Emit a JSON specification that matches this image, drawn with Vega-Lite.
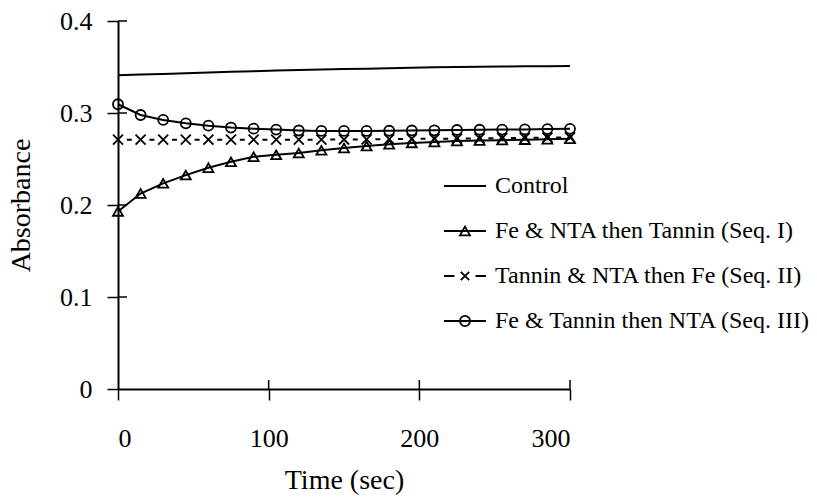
{
  "$schema": "https://vega.github.io/schema/vega-lite/v6.json",
  "autosize": {"type": "none"},
  "padding": {"left": 118, "top": 21, "right": 247, "bottom": 112},
  "width": 452,
  "height": 368,
  "background": "white",
  "config": {
    "font": "Liberation Serif",
    "view": {"stroke": null},
    "axis": {
      "grid": false,
      "domainColor": "black",
      "domainWidth": 2,
      "tickColor": "black",
      "tickWidth": 1.5,
      "labelColor": "black",
      "titleColor": "black",
      "titleFontWeight": "normal",
      "labelFont": "Liberation Serif",
      "titleFont": "Liberation Serif"
    }
  },
  "data": {
    "values": [
      {"t": 0, "series": "Control", "a": 0.341},
      {"t": 15, "series": "Control", "a": 0.3418},
      {"t": 30, "series": "Control", "a": 0.3425},
      {"t": 45, "series": "Control", "a": 0.3433},
      {"t": 60, "series": "Control", "a": 0.344},
      {"t": 75, "series": "Control", "a": 0.3448},
      {"t": 90, "series": "Control", "a": 0.3455},
      {"t": 105, "series": "Control", "a": 0.3462},
      {"t": 120, "series": "Control", "a": 0.3468},
      {"t": 135, "series": "Control", "a": 0.3473},
      {"t": 150, "series": "Control", "a": 0.3478},
      {"t": 165, "series": "Control", "a": 0.3482},
      {"t": 180, "series": "Control", "a": 0.3487},
      {"t": 195, "series": "Control", "a": 0.3492},
      {"t": 210, "series": "Control", "a": 0.3496},
      {"t": 225, "series": "Control", "a": 0.35},
      {"t": 240, "series": "Control", "a": 0.3503},
      {"t": 255, "series": "Control", "a": 0.3505},
      {"t": 270, "series": "Control", "a": 0.3507},
      {"t": 285, "series": "Control", "a": 0.3509},
      {"t": 300, "series": "Control", "a": 0.351},
      {"t": 0, "series": "Fe & NTA then Tannin (Seq. I)", "a": 0.193},
      {"t": 15, "series": "Fe & NTA then Tannin (Seq. I)", "a": 0.2125},
      {"t": 30, "series": "Fe & NTA then Tannin (Seq. I)", "a": 0.2235},
      {"t": 45, "series": "Fe & NTA then Tannin (Seq. I)", "a": 0.2325},
      {"t": 60, "series": "Fe & NTA then Tannin (Seq. I)", "a": 0.2405},
      {"t": 75, "series": "Fe & NTA then Tannin (Seq. I)", "a": 0.247},
      {"t": 90, "series": "Fe & NTA then Tannin (Seq. I)", "a": 0.2525},
      {"t": 105, "series": "Fe & NTA then Tannin (Seq. I)", "a": 0.2545},
      {"t": 120, "series": "Fe & NTA then Tannin (Seq. I)", "a": 0.2565},
      {"t": 135, "series": "Fe & NTA then Tannin (Seq. I)", "a": 0.2595},
      {"t": 150, "series": "Fe & NTA then Tannin (Seq. I)", "a": 0.262},
      {"t": 165, "series": "Fe & NTA then Tannin (Seq. I)", "a": 0.264},
      {"t": 180, "series": "Fe & NTA then Tannin (Seq. I)", "a": 0.266},
      {"t": 195, "series": "Fe & NTA then Tannin (Seq. I)", "a": 0.2675},
      {"t": 210, "series": "Fe & NTA then Tannin (Seq. I)", "a": 0.2685},
      {"t": 225, "series": "Fe & NTA then Tannin (Seq. I)", "a": 0.2695},
      {"t": 240, "series": "Fe & NTA then Tannin (Seq. I)", "a": 0.27},
      {"t": 255, "series": "Fe & NTA then Tannin (Seq. I)", "a": 0.2705},
      {"t": 270, "series": "Fe & NTA then Tannin (Seq. I)", "a": 0.271},
      {"t": 285, "series": "Fe & NTA then Tannin (Seq. I)", "a": 0.2715},
      {"t": 300, "series": "Fe & NTA then Tannin (Seq. I)", "a": 0.272},
      {"t": 0, "series": "Tannin & NTA then Fe (Seq. II)", "a": 0.271},
      {"t": 15, "series": "Tannin & NTA then Fe (Seq. II)", "a": 0.271},
      {"t": 30, "series": "Tannin & NTA then Fe (Seq. II)", "a": 0.271},
      {"t": 45, "series": "Tannin & NTA then Fe (Seq. II)", "a": 0.271},
      {"t": 60, "series": "Tannin & NTA then Fe (Seq. II)", "a": 0.271},
      {"t": 75, "series": "Tannin & NTA then Fe (Seq. II)", "a": 0.271},
      {"t": 90, "series": "Tannin & NTA then Fe (Seq. II)", "a": 0.271},
      {"t": 105, "series": "Tannin & NTA then Fe (Seq. II)", "a": 0.271},
      {"t": 120, "series": "Tannin & NTA then Fe (Seq. II)", "a": 0.271},
      {"t": 135, "series": "Tannin & NTA then Fe (Seq. II)", "a": 0.271},
      {"t": 150, "series": "Tannin & NTA then Fe (Seq. II)", "a": 0.2712},
      {"t": 165, "series": "Tannin & NTA then Fe (Seq. II)", "a": 0.2714},
      {"t": 180, "series": "Tannin & NTA then Fe (Seq. II)", "a": 0.2716},
      {"t": 195, "series": "Tannin & NTA then Fe (Seq. II)", "a": 0.2718},
      {"t": 210, "series": "Tannin & NTA then Fe (Seq. II)", "a": 0.272},
      {"t": 225, "series": "Tannin & NTA then Fe (Seq. II)", "a": 0.2722},
      {"t": 240, "series": "Tannin & NTA then Fe (Seq. II)", "a": 0.2725},
      {"t": 255, "series": "Tannin & NTA then Fe (Seq. II)", "a": 0.2727},
      {"t": 270, "series": "Tannin & NTA then Fe (Seq. II)", "a": 0.273},
      {"t": 285, "series": "Tannin & NTA then Fe (Seq. II)", "a": 0.2732},
      {"t": 300, "series": "Tannin & NTA then Fe (Seq. II)", "a": 0.2735},
      {"t": 0, "series": "Fe & Tannin then NTA (Seq. III)", "a": 0.3095},
      {"t": 15, "series": "Fe & Tannin then NTA (Seq. III)", "a": 0.2978},
      {"t": 30, "series": "Fe & Tannin then NTA (Seq. III)", "a": 0.2925},
      {"t": 45, "series": "Fe & Tannin then NTA (Seq. III)", "a": 0.2888},
      {"t": 60, "series": "Fe & Tannin then NTA (Seq. III)", "a": 0.2862},
      {"t": 75, "series": "Fe & Tannin then NTA (Seq. III)", "a": 0.2842},
      {"t": 90, "series": "Fe & Tannin then NTA (Seq. III)", "a": 0.283},
      {"t": 105, "series": "Fe & Tannin then NTA (Seq. III)", "a": 0.282},
      {"t": 120, "series": "Fe & Tannin then NTA (Seq. III)", "a": 0.281},
      {"t": 135, "series": "Fe & Tannin then NTA (Seq. III)", "a": 0.2805},
      {"t": 150, "series": "Fe & Tannin then NTA (Seq. III)", "a": 0.2805},
      {"t": 165, "series": "Fe & Tannin then NTA (Seq. III)", "a": 0.2805},
      {"t": 180, "series": "Fe & Tannin then NTA (Seq. III)", "a": 0.2807},
      {"t": 195, "series": "Fe & Tannin then NTA (Seq. III)", "a": 0.281},
      {"t": 210, "series": "Fe & Tannin then NTA (Seq. III)", "a": 0.2812},
      {"t": 225, "series": "Fe & Tannin then NTA (Seq. III)", "a": 0.2815},
      {"t": 240, "series": "Fe & Tannin then NTA (Seq. III)", "a": 0.2818},
      {"t": 255, "series": "Fe & Tannin then NTA (Seq. III)", "a": 0.282},
      {"t": 270, "series": "Fe & Tannin then NTA (Seq. III)", "a": 0.2822},
      {"t": 285, "series": "Fe & Tannin then NTA (Seq. III)", "a": 0.2825},
      {"t": 300, "series": "Fe & Tannin then NTA (Seq. III)", "a": 0.2828}
    ]
  },
  "encoding": {
    "x": {
      "field": "t", "type": "quantitative",
      "scale": {"domain": [0, 300], "nice": false, "zero": false},
      "axis": {
        "title": "Time (sec)", "values": [0, 100, 200, 300],
        "tickSize": 11, "labelPadding": 25, "labelFontSize": 26,
        "titleFontSize": 28, "titlePadding": 15
      }
    },
    "y": {
      "field": "a", "type": "quantitative",
      "scale": {"domain": [0, 0.4], "nice": false, "zero": false},
      "axis": {
        "title": "Absorbance", "values": [0, 0.1, 0.2, 0.3, 0.4], "format": "~g",
        "tickSize": 11, "labelPadding": 15, "labelFontSize": 26,
        "titleFontSize": 28, "titlePadding": 24
      }
    }
  },
  "layer": [
    {
      "transform": [{"filter": "datum.series !== 'Tannin & NTA then Fe (Seq. II)'"}],
      "mark": {"type": "line", "color": "black", "strokeWidth": 2},
      "encoding": {"detail": {"field": "series", "type": "nominal"}}
    },
    {
      "transform": [{"filter": "datum.series === 'Tannin & NTA then Fe (Seq. II)'"}],
      "mark": {"type": "line", "color": "black", "strokeWidth": 2, "strokeDash": [5, 17.6], "strokeDashOffset": 13.8},
      "encoding": {}
    },
    {
      "transform": [{"filter": "datum.series !== 'Control'"}],
      "mark": {"type": "point", "filled": false, "color": "black", "strokeWidth": 1.8, "size": 100, "opacity": 1},
      "encoding": {
        "shape": {
          "field": "series", "type": "nominal", "legend": null,
          "scale": {
            "domain": ["Fe & NTA then Tannin (Seq. I)", "Tannin & NTA then Fe (Seq. II)", "Fe & Tannin then NTA (Seq. III)"],
            "range": ["triangle-up", "M-1,-1L1,1M-1,1L1,-1", "circle"]
          }
        }
      }
    },
    {
      "mark": {"type": "point", "filled": false, "color": "black", "opacity": 0, "size": 10},
      "encoding": {
        "shape": {
          "field": "series", "type": "nominal",
          "scale": {
            "domain": ["Control", "Fe & NTA then Tannin (Seq. I)", "Tannin & NTA then Fe (Seq. II)", "Fe & Tannin then NTA (Seq. III)"],
            "range": [
              "M-1,0L1,0",
              "M-1,0L1,0M0,-0.206L0.238,0.206L-0.238,0.206Z",
              "M-1,0L-0.5,0M0.5,0L1,0M-0.2,-0.2L0.2,0.2M-0.2,0.2L0.2,-0.2",
              "M-1,0L1,0M0.24,0A0.24,0.24,0,1,1,-0.24,0A0.24,0.24,0,1,1,0.24,0"
            ]
          },
          "legend": {
            "title": null, "orient": "none", "legendX": 325, "legendY": 143,
            "symbolSize": 1764, "symbolStrokeColor": "black", "symbolFillColor": "transparent",
            "symbolStrokeWidth": 1.8, "symbolOpacity": 1,
            "labelFont": "Liberation Serif", "labelFontSize": 24, "labelColor": "black",
            "labelOffset": 8, "rowPadding": 11, "labelLimit": 400
          }
        }
      }
    },
    {
      "data": {
        "values": [
          {"tx": 0, "tx2": 6, "ty": 0.1, "ty2": 0.1},
          {"tx": 0, "tx2": 6, "ty": 0.2, "ty2": 0.2},
          {"tx": 0, "tx2": 6, "ty": 0.3, "ty2": 0.3},
          {"tx": 0, "tx2": 6, "ty": 0.4, "ty2": 0.4},
          {"tx": 100, "tx2": 100, "ty": 0, "ty2": 0.0098},
          {"tx": 200, "tx2": 200, "ty": 0, "ty2": 0.0098},
          {"tx": 300, "tx2": 300, "ty": 0, "ty2": 0.0098}
        ]
      },
      "mark": {"type": "rule", "color": "black", "strokeWidth": 1.5},
      "encoding": {
        "x": {"field": "tx", "type": "quantitative"},
        "x2": {"field": "tx2"},
        "y": {"field": "ty", "type": "quantitative"},
        "y2": {"field": "ty2"}
      }
    }
  ],
  "resolve": {"scale": {"shape": "independent"}, "legend": {"shape": "independent"}}
}
